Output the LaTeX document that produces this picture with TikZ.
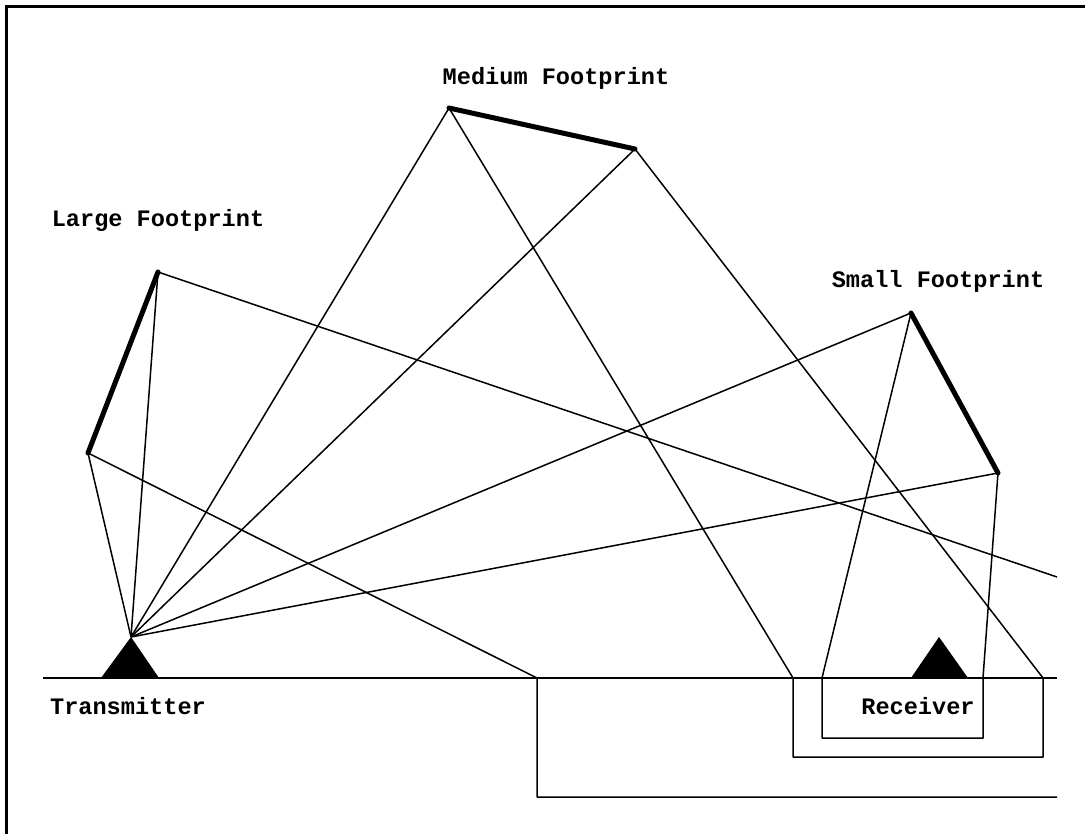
\documentclass[tikz,border=0pt]{standalone}
\usepackage{fontspec}
\newfontfamily\labfont{Liberation Mono}
\begin{document}
\begin{tikzpicture}[x=1pt,y=-1pt,
  ray/.style={line width=1.5pt, line join=round},
  foot/.style={line width=5pt, line cap=round},
  frame/.style={line width=3pt},
  lab/.style={font=\labfont\bfseries\fontsize{23.6}{28}\selectfont, inner sep=0pt, anchor=base}]
\useasboundingbox (0,0) rectangle (1085,834);
% frame (top and left only)
\draw[frame] (6,834) -- (6,7) -- (1085,7);
% key points
\coordinate (T) at (131,637);
\coordinate (TL) at (101,678);
\coordinate (TR) at (159,678);
\coordinate (R) at (939,637);
\coordinate (RL) at (911,678);
\coordinate (RR) at (968,678);
\coordinate (L1) at (158,272);
\coordinate (L2) at (88,453);
\coordinate (M1) at (449,108);
\coordinate (M2) at (635,149);
\coordinate (S1) at (911,313);
\coordinate (S2) at (998,473);
\coordinate (G0) at (43,678);
\coordinate (G1) at (1057,678);
\coordinate (A) at (537,678);
\coordinate (B) at (1057,577);
\coordinate (C) at (793,678);
\coordinate (D) at (1043,678);
\coordinate (E) at (822,678);
\coordinate (F) at (983,678);
\coordinate (A1) at (537,797);
\coordinate (A2) at (1057,797);
\coordinate (C1) at (793,757);
\coordinate (D1) at (1043,757);
\coordinate (E1) at (822,738);
\coordinate (F1) at (983,738);
% ground
\draw[ray] (G0) -- (G1);
% antennas
\fill (TL) -- (T) -- (TR) -- cycle;
\fill (RL) -- (R) -- (RR) -- cycle;
% incident rays
\foreach \p in {L1,L2,M1,M2,S1,S2} \draw[ray] (T) -- (\p);
% reflected rays and paths to receiver
\draw[ray] (L2) -- (A) -- (A1) -- (A2);
\draw[ray] (L1) -- (B);
\draw[ray] (M1) -- (C) -- (C1) -- (D1) -- (D) -- (M2);
\draw[ray] (S1) -- (E) -- (E1) -- (F1) -- (F) -- (S2);
% footprints
\draw[foot] (L1) -- (L2);
\draw[foot] (M1) -- (M2);
\draw[foot] (S1) -- (S2);
% labels
\node[lab] (mfp) at (556,85) {Medium Footprint};
\node[lab] (lfp) at (158,227) {Large Footprint};
\node[lab] (sfp) at (938,288) {Small Footprint};
\node[lab] (tx) at (128,714) {Transmitter};
\node[lab] (rx) at (918,714) {Receiver};
\end{tikzpicture}
\end{document}
